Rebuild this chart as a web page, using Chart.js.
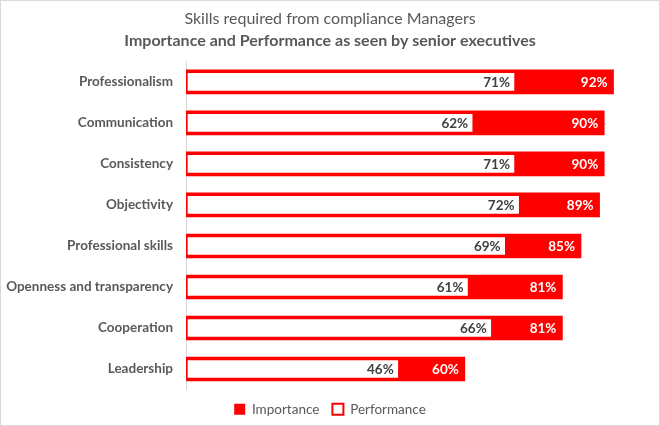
<!DOCTYPE html>
<html>
<head>
<meta charset="utf-8">
<script src="https://cdn.jsdelivr.net/npm/chart.js@4.4.0/dist/chart.umd.min.js"></script>
<style>
  html, body { margin: 0; padding: 0; background: #fff; }
  #wrap { width: 660px; height: 426px; position: relative; }
</style>
</head>
<body>
<div id="wrap"><canvas id="c" width="660" height="426"></canvas></div>
<script>
const categories = ["Professionalism", "Communication", "Consistency", "Objectivity", "Professional skills", "Openness and transparency", "Cooperation", "Leadership"];
const importance = [92, 90, 90, 89, 85, 81, 81, 60];
const performance = [71, 62, 71, 72, 69, 61, 66, 46];
const titleText = "Skills required from compliance Managers";
const subtitleText = "Importance and Performance as seen by senior executives";

const FONT = "Lato, Carlito, Calibri, sans-serif";
const RED = "#FF0000";

const bgPlugin = {
  id: 'bg',
  beforeDraw(chart) {
    const ctx = chart.ctx;
    ctx.save();
    ctx.fillStyle = '#ffffff';
    ctx.fillRect(0, 0, chart.width, chart.height);
    ctx.strokeStyle = '#d9d9d9';
    ctx.lineWidth = 1;
    ctx.strokeRect(0.5, 0.5, chart.width - 1, chart.height - 1);
    ctx.restore();
  }
};

const labelPlugin = {
  id: 'barLabels',
  afterDatasetsDraw(chart) {
    const ctx = chart.ctx;
    ctx.save();
    ctx.font = "bold 13.5px " + FONT;
    ctx.textAlign = 'right';
    ctx.textBaseline = 'middle';
    chart.data.datasets.forEach((ds, di) => {
      const meta = chart.getDatasetMeta(di);
      meta.data.forEach((el, i) => {
        ctx.fillStyle = di === 0 ? '#ffffff' : '#404040';
        ctx.fillText(ds.data[i] + '%', el.x - 6, el.y + 1);
      });
    });
    ctx.restore();
  }
};

new Chart(document.getElementById('c'), {
  type: 'bar',
  data: {
    labels: categories,
    datasets: [
      {
        label: 'Importance',
        data: importance,
        backgroundColor: RED,
        borderColor: RED,
        borderWidth: 0,
        barThickness: 24,
        order: 1
      },
      {
        label: 'Performance',
        data: performance,
        backgroundColor: '#ffffff',
        borderColor: RED,
        borderWidth: 2,
        borderSkipped: false,
        barThickness: 21,
        order: 0
      }
    ]
  },
  options: {
    indexAxis: 'y',
    responsive: false,
    animation: false,
    layout: { padding: { left: 0, right: 0, top: 0, bottom: 0 } },
    scales: {
      x: {
        display: false,
        min: 0,
        max: 102,
        stacked: false
      },
      y: {
        stacked: true,
        grid: { display: false, drawTicks: false },
        border: { display: true, color: '#d9d9d9', width: 1 },
        ticks: {
          color: '#595959',
          font: { family: FONT, size: 13.5, weight: 'bold' },
          padding: 13
        },
        afterFit(scale) { scale.width = 186; }
      }
    },
    plugins: {
      title: {
        display: true,
        text: titleText,
        color: '#595959',
        font: { family: FONT, size: 16, weight: 'normal' },
        padding: { top: 9, bottom: 3 }
      },
      subtitle: {
        display: true,
        text: subtitleText,
        color: '#595959',
        font: { family: FONT, size: 16, weight: 'bold' },
        padding: { top: 0, bottom: 11 }
      },
      legend: {
        position: 'bottom',
        labels: {
          color: '#595959',
          font: { family: FONT, size: 13.5 },
          boxWidth: 11,
          boxHeight: 11,
          padding: 13,
          sort: (a, b) => a.datasetIndex - b.datasetIndex,
          generateLabels(chart) {
            return chart.data.datasets.map((ds, i) => ({
              text: ds.label,
              fillStyle: ds.backgroundColor,
              strokeStyle: RED,
              lineWidth: i === 0 ? 0 : 2,
              fontColor: '#595959',
              hidden: false,
              datasetIndex: i
            }));
          }
        }
      },
      tooltip: { enabled: false }
    }
  },
  plugins: [bgPlugin, labelPlugin]
});
</script>
</body>
</html>
